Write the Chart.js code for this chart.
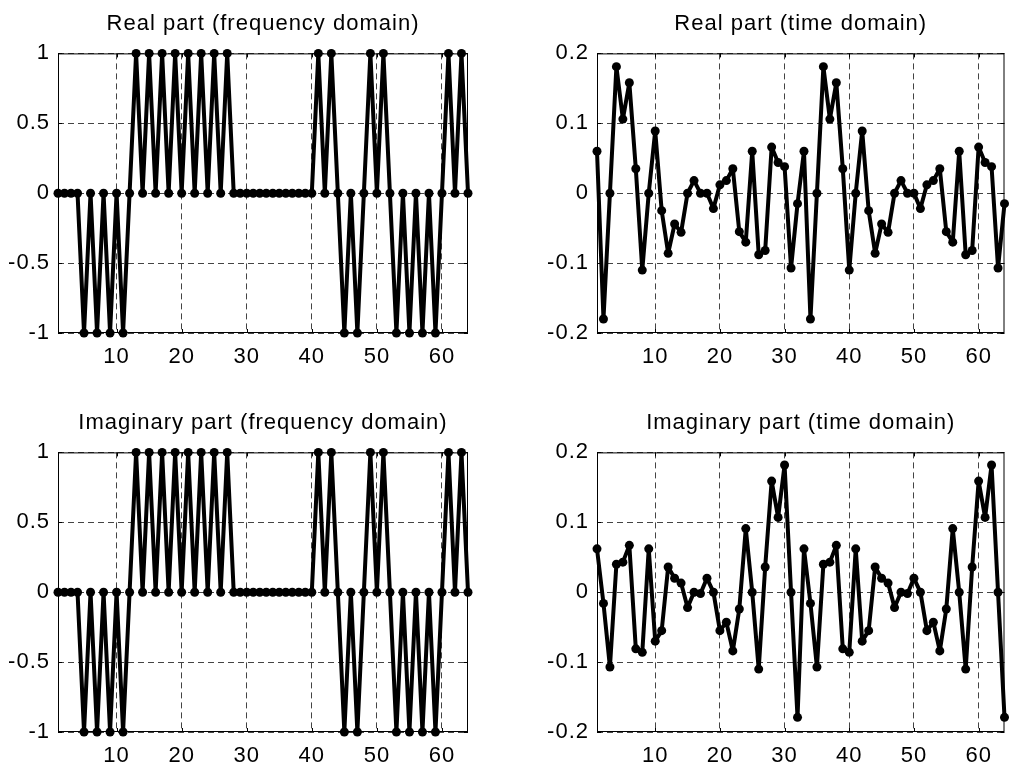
<!DOCTYPE html>
<html>
<head>
<meta charset="utf-8">
<script src="https://cdn.jsdelivr.net/npm/chart.js@4.4.1/dist/chart.umd.min.js"></script>
<style>
    body { margin: 0; background: #fff; overflow: hidden; }
    canvas { position: absolute; }
</style>
</head>
<body>
<canvas id="freqRe" width="480" height="380" style="left:0;top:0"></canvas>
<canvas id="timeRe" width="509" height="380" style="left:500px;top:0"></canvas>
<canvas id="freqIm" width="480" height="365" style="left:0;top:399px"></canvas>
<canvas id="timeIm" width="509" height="365" style="left:500px;top:399px"></canvas>
<script>
// sample index (1..64)
const samples = Array.from({ length: 64 }, (_, i) => i + 1);
const xTicks = [10, 20, 30, 40, 50, 60];
const freqTicks = [-1, -0.5, 0, 0.5, 1];
const timeTicks = [-0.2, -0.1, 0, 0.1, 0.2];

// frequency domain, real part
const freqReal = [
    0, 0, 0, 0, -1, 0, -1, 0, -1, 0, -1, 0, 1, 0, 1, 0,
    1, 0, 1, 0, 1, 0, 1, 0, 1, 0, 1, 0, 0, 0, 0, 0,
    0, 0, 0, 0, 0, 0, 0, 0, 1, 0, 1, 0, -1, 0, -1, 0,
    1, 0, 1, 0, -1, 0, -1, 0, -1, 0, -1, 0, 1, 0, 1, 0
];
// frequency domain, imaginary part
const freqImag = [
    0, 0, 0, 0, -1, 0, -1, 0, -1, 0, -1, 0, 1, 0, 1, 0,
    1, 0, 1, 0, 1, 0, 1, 0, 1, 0, 1, 0, 0, 0, 0, 0,
    0, 0, 0, 0, 0, 0, 0, 0, 1, 0, 1, 0, -1, 0, -1, 0,
    1, 0, 1, 0, -1, 0, -1, 0, -1, 0, -1, 0, 1, 0, 1, 0
];
// time domain, real part
const timeReal = [
    0.060, -0.180, 0.000, 0.181, 0.106, 0.158, 0.035, -0.110,
    0.000, 0.089, -0.025, -0.086, -0.044, -0.056, 0.000, 0.018,
    0.000, 0.000, -0.022, 0.012, 0.018, 0.035, -0.055, -0.070,
    0.060, -0.088, -0.082, 0.066, 0.044, 0.038, -0.107, -0.015,
    0.060, -0.180, 0.000, 0.181, 0.106, 0.158, 0.035, -0.110,
    0.000, 0.089, -0.025, -0.086, -0.044, -0.056, 0.000, 0.018,
    0.000, 0.000, -0.022, 0.012, 0.018, 0.035, -0.055, -0.070,
    0.060, -0.088, -0.082, 0.066, 0.044, 0.038, -0.107, -0.015
];
// time domain, imaginary part
const timeImag = [
    0.062, -0.016, -0.107, 0.040, 0.043, 0.067, -0.081, -0.086,
    0.062, -0.070, -0.055, 0.036, 0.020, 0.013, -0.022, 0.000,
    -0.002, 0.020, 0.000, -0.055, -0.043, -0.084, -0.024, 0.091,
    0.000, -0.110, 0.036, 0.159, 0.107, 0.182, 0.000, -0.179,
    0.062, -0.016, -0.107, 0.040, 0.043, 0.067, -0.081, -0.086,
    0.062, -0.070, -0.055, 0.036, 0.020, 0.013, -0.022, 0.000,
    -0.002, 0.020, 0.000, -0.055, -0.043, -0.084, -0.024, 0.091,
    0.000, -0.110, 0.036, 0.159, 0.107, 0.182, 0.000, -0.179
];

const FONT = { family: "Arial, 'Liberation Sans', sans-serif", size: 22 };

// box around the axes + small inward ticks on all sides (matlab look)
const boxPlugin = {
    id: "box",
    afterLayout(chart) {
        // center the title over the plot area, not the whole canvas
        if (chart.titleBlock) {
            chart.titleBlock.left = chart.chartArea.left;
            chart.titleBlock.right = chart.chartArea.right;
        }
    },
    beforeDraw(chart) {
        chart.ctx.letterSpacing = "1px";
    },
    beforeDatasetsDraw(chart) {
        let { ctx, chartArea: a, scales } = chart;
        ctx.save();
        ctx.strokeStyle = "#000";
        ctx.lineWidth = 1;
        ctx.setLineDash([]);
        ctx.strokeRect(a.left + 0.5, a.top + 0.5, a.right - a.left - 1, a.bottom - a.top - 1);
        ctx.beginPath();
        scales.x.ticks.forEach((t) => {
            let px = Math.round(scales.x.getPixelForValue(t.value)) + 0.5;
            ctx.moveTo(px, a.bottom); ctx.lineTo(px, a.bottom - 4);
            ctx.moveTo(px, a.top); ctx.lineTo(px, a.top + 4);
        });
        scales.y.ticks.forEach((t) => {
            let py = Math.round(scales.y.getPixelForValue(t.value)) + 0.5;
            ctx.moveTo(a.left, py); ctx.lineTo(a.left + 4, py);
            ctx.moveTo(a.right, py); ctx.lineTo(a.right - 4, py);
        });
        ctx.stroke();
        ctx.restore();
    }
};

function makePanel(id, title, values, yTicks, yWidth, xHeight, padRight) {
    let ctx = document.getElementById(id).getContext("2d");
    return new Chart(ctx, {
        type: "line",
        data: {
            datasets: [{
                data: samples.map((s, i) => ({ x: s, y: values[i] })),
                borderColor: "#000",
                borderWidth: 4,
                borderJoinStyle: "round",
                pointRadius: 4.5,
                pointBorderWidth: 0,
                pointBackgroundColor: "#000",
                tension: 0,
                clip: false
            }]
        },
        options: {
            responsive: false,
            animation: false,
            devicePixelRatio: 1,
            layout: { padding: { left: 0, right: padRight, top: 0, bottom: 0 } },
            plugins: {
                legend: { display: false },
                tooltip: { enabled: false },
                title: {
                    display: true,
                    text: title,
                    color: "#000",
                    font: { ...FONT, weight: "normal" },
                    padding: { top: 11, bottom: 16 }
                }
            },
            scales: {
                x: {
                    type: "linear",
                    min: 1,
                    max: 64,
                    afterBuildTicks: (s) => { s.ticks = xTicks.map((v) => ({ value: v })); },
                    afterFit: (s) => { s.height = xHeight; },
                    grid: { color: "#444", lineWidth: 1, drawTicks: false },
                    border: { display: false, dash: [6, 4] },
                    ticks: { color: "#000", font: FONT, padding: 11, maxRotation: 0 }
                },
                y: {
                    min: yTicks[0],
                    max: yTicks[yTicks.length - 1],
                    afterBuildTicks: (s) => { s.ticks = yTicks.map((v) => ({ value: v })); },
                    afterFit: (s) => { s.width = yWidth; },
                    grid: { color: "#444", lineWidth: 1, drawTicks: false },
                    border: { display: false, dash: [6, 4] },
                    ticks: { color: "#000", font: FONT, padding: 8, callback: (v) => String(v) }
                }
            }
        },
        plugins: [boxPlugin]
    });
}

makePanel("freqRe", "Real part (frequency domain)", freqReal, freqTicks, 58, 47, 12);
makePanel("timeRe", "Real part (time domain)", timeReal, timeTicks, 97, 47, 2);
makePanel("freqIm", "Imaginary part (frequency domain)", freqImag, freqTicks, 58, 32, 12);
makePanel("timeIm", "Imaginary part (time domain)", timeImag, timeTicks, 97, 32, 2);
</script>
</body>
</html>
